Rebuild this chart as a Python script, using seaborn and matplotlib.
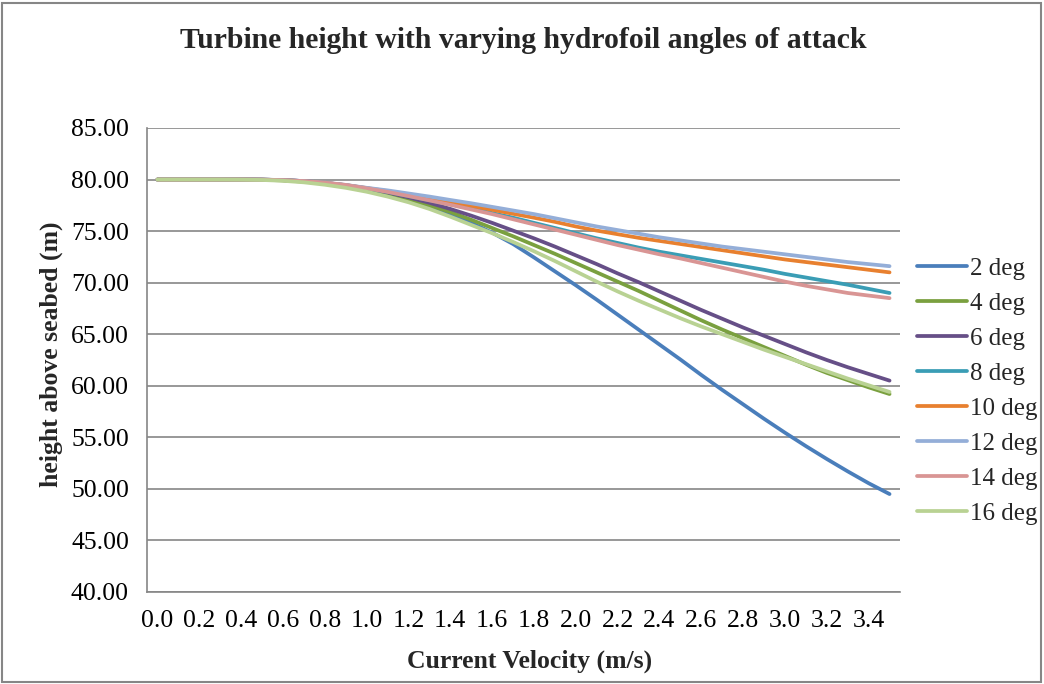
import matplotlib
matplotlib.use("Agg")
import matplotlib.pyplot as plt
import seaborn as sns
import pandas as pd
from matplotlib.patches import Rectangle

# Current velocity categories (m/s)
velocity = [0.0, 0.1, 0.2, 0.3, 0.4, 0.5, 0.6, 0.7, 0.8, 0.9,
            1.0, 1.1, 1.2, 1.3, 1.4, 1.5, 1.6, 1.7, 1.8, 1.9,
            2.0, 2.1, 2.2, 2.3, 2.4, 2.5, 2.6, 2.7, 2.8, 2.9,
            3.0, 3.1, 3.2, 3.3, 3.4, 3.5]

# Turbine height above seabed (m) for each hydrofoil angle of attack
h_2deg = [80.00, 80.00, 80.00, 80.00, 80.00, 79.99, 79.95, 79.85, 79.65, 79.40,
          79.05, 78.60, 78.05, 77.40, 76.65, 75.80, 74.85, 73.75, 72.45, 71.10,
          69.75, 68.35, 66.90, 65.45, 64.00, 62.55, 61.05, 59.60, 58.20, 56.80,
          55.45, 54.15, 52.90, 51.70, 50.55, 49.50]
h_4deg = [80.00, 80.00, 80.00, 80.00, 80.00, 79.98, 79.92, 79.80, 79.60, 79.35,
          79.00, 78.60, 78.10, 77.50, 76.85, 76.10, 75.30, 74.50, 73.65, 72.80,
          71.90, 71.00, 70.10, 69.20, 68.25, 67.30, 66.35, 65.45, 64.60, 63.75,
          62.90, 62.05, 61.25, 60.55, 59.85, 59.20]
h_6deg = [80.00, 80.00, 80.00, 80.00, 80.00, 79.99, 79.95, 79.85, 79.68, 79.45,
          79.12, 78.75, 78.28, 77.75, 77.15, 76.50, 75.80, 75.05, 74.30, 73.50,
          72.65, 71.80, 70.90, 70.05, 69.15, 68.25, 67.35, 66.50, 65.65, 64.85,
          64.05, 63.25, 62.50, 61.80, 61.15, 60.50]
h_8deg = [80.00, 80.00, 80.00, 80.00, 80.00, 79.99, 79.94, 79.84, 79.68, 79.45,
          79.15, 78.80, 78.40, 78.00, 77.60, 77.20, 76.75, 76.30, 75.80, 75.30,
          74.80, 74.30, 73.85, 73.40, 73.00, 72.65, 72.30, 71.95, 71.60, 71.25,
          70.85, 70.50, 70.15, 69.80, 69.40, 69.00]
h_10deg = [80.00, 80.00, 80.00, 80.00, 80.00, 79.99, 79.94, 79.84, 79.68, 79.46,
           79.18, 78.88, 78.55, 78.20, 77.82, 77.45, 77.07, 76.68, 76.30, 75.90,
           75.45, 75.05, 74.70, 74.35, 74.05, 73.75, 73.45, 73.15, 72.85, 72.55,
           72.25, 72.00, 71.75, 71.50, 71.25, 71.00]
h_12deg = [80.00, 80.00, 80.00, 80.00, 80.00, 79.99, 79.94, 79.85, 79.70, 79.48,
           79.20, 78.95, 78.65, 78.35, 78.02, 77.70, 77.35, 77.00, 76.65, 76.25,
           75.85, 75.45, 75.10, 74.75, 74.40, 74.10, 73.80, 73.50, 73.25, 73.00,
           72.75, 72.50, 72.25, 72.00, 71.80, 71.60]
h_14deg = [80.00, 80.00, 80.00, 80.00, 80.00, 79.99, 79.94, 79.85, 79.70, 79.48,
           79.15, 78.80, 78.40, 77.98, 77.55, 77.10, 76.65, 76.15, 75.65, 75.15,
           74.65, 74.15, 73.65, 73.20, 72.75, 72.35, 71.90, 71.45, 71.00, 70.55,
           70.10, 69.70, 69.35, 69.00, 68.75, 68.50]
h_16deg = [80.00, 80.00, 80.00, 80.00, 79.99, 79.96, 79.88, 79.73, 79.50, 79.20,
           78.82, 78.35, 77.80, 77.15, 76.40, 75.60, 74.80, 73.95, 73.05, 72.10,
           71.10, 70.10, 69.15, 68.25, 67.40, 66.55, 65.75, 65.00, 64.25, 63.50,
           62.80, 62.10, 61.40, 60.70, 60.05, 59.40]

angle_labels = ["2 deg", "4 deg", "6 deg", "8 deg", "10 deg", "12 deg", "14 deg", "16 deg"]
line_colors = ["#4A7EBB", "#7AA03F", "#664F87", "#3A9DB5",
               "#E8802F", "#94AED8", "#D99594", "#B9D293"]
x_tick_labels = ["0.0", "0.2", "0.4", "0.6", "0.8", "1.0", "1.2", "1.4", "1.6",
                 "1.8", "2.0", "2.2", "2.4", "2.6", "2.8", "3.0", "3.2", "3.4"]
y_ticks = [40, 45, 50, 55, 60, 65, 70, 75, 80, 85]

all_heights = [h_2deg, h_4deg, h_6deg, h_8deg, h_10deg, h_12deg, h_14deg, h_16deg]
frames = []
for label, heights in zip(angle_labels, all_heights):
    frames.append(pd.DataFrame({"velocity": velocity, "height": heights, "angle": label}))
df = pd.concat(frames, ignore_index=True)

sns.set_style("white")
plt.rcParams["font.family"] = ["Liberation Serif", "DejaVu Serif"]
grey = "#868686"

W, H = 1044, 684
fig = plt.figure(figsize=(W / 100, H / 100), dpi=100)
left, right, top, bottom = 147, 900, 128, 592
ax = fig.add_axes([left / W, 1 - bottom / H, (right - left) / W, (bottom - top) / H])

sns.lineplot(data=df, x="velocity", y="height", hue="angle", hue_order=angle_labels,
             palette=dict(zip(angle_labels, line_colors)), linewidth=2.7,
             errorbar=None, ax=ax, solid_capstyle="round")

# Category-style x axis: labels on every other category, ticks between categories
step = velocity[1] - velocity[0]
ax.set_xlim(velocity[0] - step / 2, velocity[-1] + step / 2)
ax.set_xticks(velocity[::2])
ax.set_xticklabels(x_tick_labels)
ax.set_xticks([v - step / 2 for v in velocity] + [velocity[-1] + step / 2], minor=True)
ax.tick_params(axis="x", which="major", length=0, pad=13, labelsize=18.5, colors="black")
ax.tick_params(axis="x", which="minor", length=6, width=1.0, color=grey, direction="out")

ax.set_ylim(y_ticks[0], y_ticks[-1])
ax.set_yticks(y_ticks)
ax.set_yticklabels([f"{t:.2f}" for t in y_ticks])
ax.tick_params(axis="y", which="major", length=7, width=1.0, color=grey, direction="out",
               pad=6, labelsize=18.5, labelcolor="black")

ax.yaxis.grid(True, color=grey, linewidth=1.2)
ax.xaxis.grid(False)
ax.set_axisbelow(True)
for side in ["top", "right"]:
    ax.spines[side].set_visible(False)
for side in ["left", "bottom"]:
    ax.spines[side].set_color(grey)
    ax.spines[side].set_linewidth(1.2)

ax.set_xlabel("Current Velocity (m/s)", fontsize=18.5, fontweight="bold")
ax.xaxis.set_label_coords((530 - left) / (right - left), -(650 - bottom) / (bottom - top))
ax.set_ylabel("height above seabed (m)", fontsize=18.5, fontweight="bold")
ax.yaxis.set_label_coords(-(left - 63) / (right - left), (bottom - 354) / (bottom - top))

fig.text((left + right) / 2 / W, 1 - 40 / H,
         "Turbine height with varying hydrofoil angles of attack",
         ha="center", va="center", fontsize=21.4, fontweight="bold")

handles, labels = ax.get_legend_handles_labels()
ax.legend(handles, labels, loc="center left", bbox_to_anchor=(907 / W, 1 - 391 / H),
          bbox_transform=fig.transFigure, frameon=False, fontsize=18,
          handlelength=2.0, handletextpad=0.12, labelspacing=0.5, borderaxespad=0)

fig.add_artist(Rectangle((2 / W, 2 / H), (W - 5) / W, (H - 5) / H, transform=fig.transFigure,
                         fill=False, edgecolor=grey, linewidth=1.5))

fig.savefig("out.png", dpi=100)
